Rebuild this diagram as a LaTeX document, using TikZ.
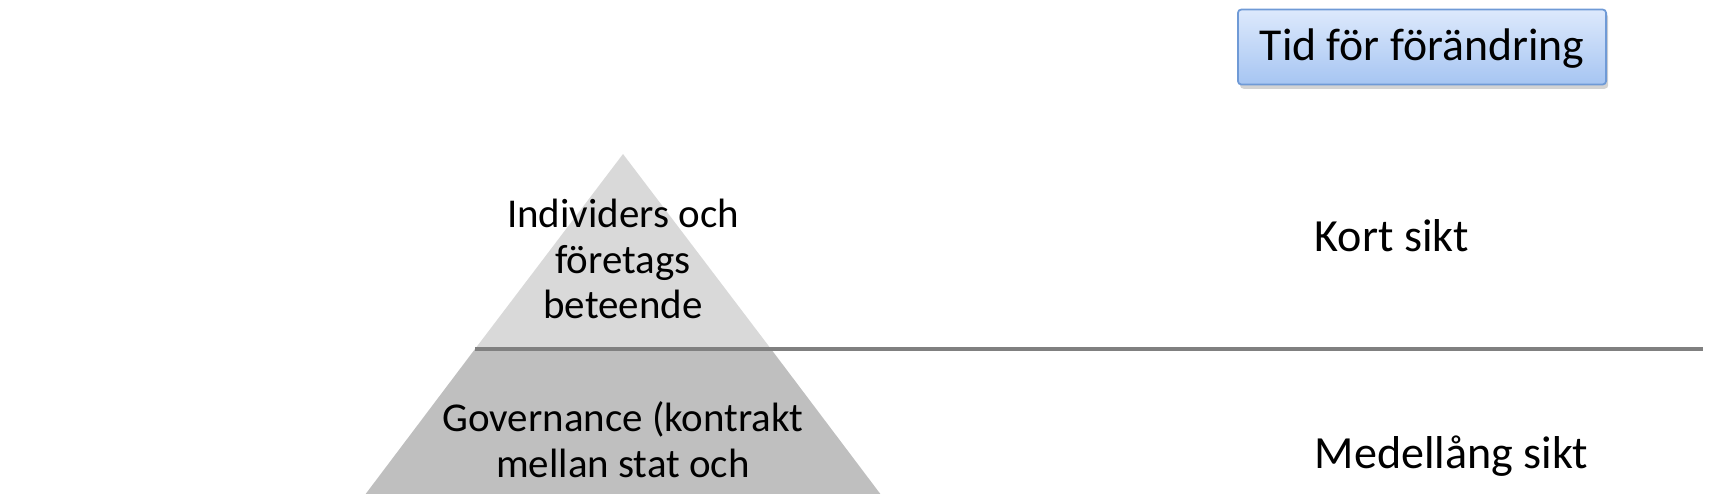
\documentclass[tikz,border=0pt]{standalone}
\usepackage{fontspec}
\setmainfont{Carlito}
\usepackage{tikz}
\usetikzlibrary{positioning}
\usetikzlibrary{shadows}
\definecolor{tierlight}{HTML}{D9D9D9}
\definecolor{tierdark}{HTML}{BFBFBF}
\definecolor{boxedge}{HTML}{6F9AD6}
\definecolor{boxtop}{HTML}{DDE9FC}
\definecolor{boxbottom}{HTML}{A6C5F2}

\begin{document}
\begin{tikzpicture}[x={(0.01cm,0cm)},y={(0cm,-0.01cm)},
  tiertext/.style={align=center,font=\fontsize{11.65}{13}\selectfont},
  horizon/.style={anchor=base west,inner sep=0pt,font=\fontsize{13.1}{15}\selectfont},
  timebox/.style={draw=boxedge,line width=0.5pt,top color=boxtop,bottom color=boxbottom,
    rounded corners=1pt,minimum width=3.68cm,minimum height=0.75cm,inner sep=0pt,
    text height=0.82em,text depth=0.08em,
    font=\fontsize{13}{15}\selectfont,
    drop shadow={shadow xshift=0.6pt,shadow yshift=-1.2pt,opacity=0.35}},
  divider/.style={line width=0.9pt,black!50}]
  \clip (0,0) rectangle (1718,493);
  \useasboundingbox (0,0) rectangle (1718,493);

  % pyramiden: ljus topp och mörk bas
  \fill[tierlight] (623,154) -- (771,349) -- (475,349) -- cycle;
  \fill[tierdark] (475,349) -- (771,349) -- (900,520) -- (346,520) -- cycle;

  \coordinate (divL) at (475,349);
  \coordinate (divR) at (1703,349);
  \draw[divider] (divL) -- (divR); % skiljelinje

  \node[tiertext] (behaviour) at (623,259) {Individers och\\företags\\beteende};
  \node[tiertext] (governance) at (623,440) {Governance (kontrakt\\mellan stat och};

  \node[horizon] (short) at (1314,251) {Kort sikt};
  \node[horizon] (medium) at (1314,468) {Medellång sikt};

  \node[timebox] (timing) at (1422,47) {Tid för förändring};
\end{tikzpicture}
\end{document}
